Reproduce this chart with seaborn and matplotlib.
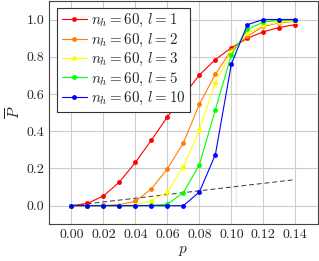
import matplotlib
matplotlib.use("Agg")
import matplotlib.pyplot as plt
import seaborn as sns
import pandas as pd

p_values = [0.00, 0.01, 0.02, 0.03, 0.04, 0.05, 0.06, 0.07, 0.08, 0.09, 0.10, 0.11, 0.12, 0.13, 0.14]
P_l1 = [0.0, 0.012, 0.052, 0.127, 0.232, 0.352, 0.477, 0.590, 0.702, 0.785, 0.848, 0.899, 0.934, 0.957, 0.973]
P_l2 = [0.0, 0.0, 0.001, 0.006, 0.023, 0.090, 0.198, 0.337, 0.545, 0.706, 0.835, 0.910, 0.963, 0.982, 0.990]
P_l3 = [0.0, 0.0, 0.0, 0.001, 0.005, 0.027, 0.073, 0.210, 0.406, 0.661, 0.825, 0.925, 0.969, 0.985, 0.993]
P_l5 = [0.0, 0.0, 0.0, 0.0, 0.0, 0.002, 0.008, 0.070, 0.220, 0.515, 0.810, 0.947, 0.986, 0.995, 0.998]
P_l10 = [0.0, 0.0, 0.0, 0.0, 0.0, 0.0, 0.0, 0.0, 0.073, 0.274, 0.760, 0.972, 1.0, 1.0, 1.0]
labels = [r"$n_h = 60,\, l = 1$", r"$n_h = 60,\, l = 2$", r"$n_h = 60,\, l = 3$",
          r"$n_h = 60,\, l = 5$", r"$n_h = 60,\, l = 10$"]
colors = ["#ff0000", "#ff8000", "#ffff00", "#00ff00", "#0000ff"]
diag_p = [0.0, 0.14]
diag_P = [0.0, 0.14]
crit_p = [0.103, 0.103]
crit_P = [0.0, 0.96]
x_ticks = [0.00, 0.02, 0.04, 0.06, 0.08, 0.10, 0.12, 0.14]
y_ticks = [0.0, 0.2, 0.4, 0.6, 0.8, 1.0]

sns.set_style("white")
plt.rcParams["font.family"] = "serif"
plt.rcParams["font.serif"] = ["cmr10"]
plt.rcParams["mathtext.fontset"] = "cm"
plt.rcParams["axes.formatter.use_mathtext"] = True

rows = []
for lab, vals in zip(labels, [P_l1, P_l2, P_l3, P_l5, P_l10]):
    for p, v in zip(p_values, vals):
        rows.append({"p": p, "P": v, "series": lab})
df = pd.DataFrame(rows)

fig = plt.figure(figsize=(3.19, 2.61), dpi=100)
ax = fig.add_axes([0.1536, 0.1406, 0.8424, 0.856])

ax.set_xticks(x_ticks)
ax.set_yticks(y_ticks)
ax.grid(True, color="#cccccc", linewidth=0.8)
ax.set_axisbelow(True)

sns.lineplot(x=crit_p, y=crit_P, ax=ax, color="#999999", linewidth=1.5,
             linestyle=(0, (2.5, 2.5)), legend=False, zorder=1.5)
sns.lineplot(x=diag_p, y=diag_P, ax=ax, color="#333333", linewidth=0.7,
             linestyle=(0, (5, 3)), legend=False, zorder=1.6)

sns.lineplot(data=df, x="p", y="P", hue="series", hue_order=labels, palette=colors,
             marker="o", markersize=3.5, markeredgewidth=0, linewidth=0.8, ax=ax,
             zorder=3)

ax.set_xlim(-0.014, 0.154)
ax.set_ylim(-0.1, 1.1)
ax.set_xticklabels([f"{t:.2f}" for t in x_ticks])
ax.set_yticklabels([f"{t:.1f}" for t in y_ticks])
ax.tick_params(labelsize=10, length=3, color="#444444", direction="in")
ax.set_xlabel(r"$p$", fontsize=11, labelpad=2)
ax.set_ylabel(r"$\overline{P}$", fontsize=11, labelpad=2)
for s in ax.spines.values():
    s.set_color("#444444")
    s.set_linewidth(0.8)

leg = ax.legend(loc="upper left", bbox_to_anchor=(0.03, 0.969), borderaxespad=0,
                fontsize=10.8, frameon=True, fancybox=False, framealpha=1,
                edgecolor="#333333", handlelength=1.7, borderpad=0.3,
                labelspacing=0.15, handletextpad=0.25)
leg.get_frame().set_linewidth(0.8)

fig.savefig("out.png", dpi=100)
